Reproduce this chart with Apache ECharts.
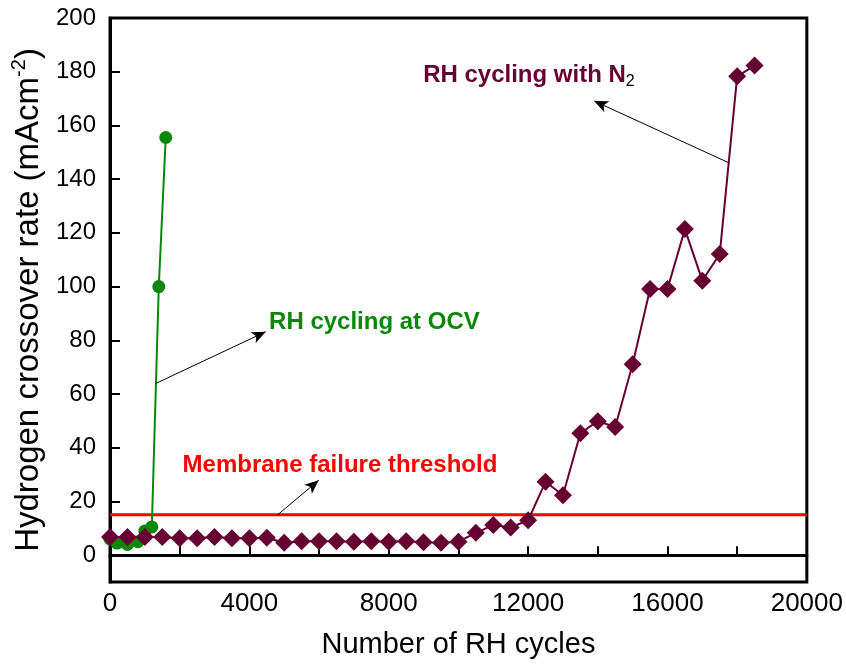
<!DOCTYPE html>
<html>
<head>
<meta charset="utf-8">
<script src="https://cdn.jsdelivr.net/npm/echarts@6/dist/echarts.min.js"></script>
<style>
  html, body { margin: 0; padding: 0; background: #fff; }
  #chart { width: 846px; height: 666px; }
</style>
</head>
<body>
<div id="chart"></div>
<script>
// RH cycling under N2: crossover rate every 500 cycles
const cyclesN2 = [0, 500, 1000, 1500, 2000, 2500, 3000, 3500, 4000, 4500,
  5000, 5500, 6000, 6500, 7000, 7500, 8000, 8500, 9000, 9500,
  10000, 10500, 11000, 11500, 12000, 12500, 13000, 13500, 14000, 14500,
  15000, 15500, 16000, 16500, 17000, 17500, 18000, 18500];
const rateN2 = [6.8, 6.8, 6.8, 6.8, 6.3, 6.3, 6.8, 6.3, 6.3, 6.5,
  4.6, 5.2, 5.2, 5.2, 5.0, 5.2, 5.0, 5.2, 4.8, 4.6,
  5.0, 8.3, 11.2, 10.3, 13.0, 27.3, 22.3, 45.4, 49.9, 47.7,
  71.1, 99.1, 99.1, 121.4, 102.2, 112.1, 178.3, 182.3];

// RH cycling at open circuit voltage
const cyclesOCV = [0, 200, 500, 800, 1000, 1200, 1400, 1600];
const rateOCV = [6.0, 4.5, 4.0, 5.0, 9.0, 10.5, 100, 155.5];

// Failure threshold (mA cm^-2)
const threshold = 15;

// Axis ticks and labels
const xTicks = [0, 2000, 4000, 6000, 8000, 10000, 12000, 14000, 16000, 18000, 20000];
const xLabels = [0, 4000, 8000, 12000, 16000, 20000];
const yTicks = [0, 20, 40, 60, 80, 100, 120, 140, 160, 180, 200];

const colN2 = '#660033';
const colOCV = '#0a870a';
const colRed = '#ff0000';
const FONT = 'Liberation Sans';

function pairs(xs, ys) { return xs.map((x, i) => [x, ys[i]]); }

function arrow(from, to) {
  return [{ coord: from }, { coord: to }];
}

const chart = echarts.init(document.getElementById('chart'));
chart.setOption({
  animation: false,
  backgroundColor: '#fff',
  textStyle: { fontFamily: FONT },
  grid: {
    left: 110, right: 35, top: 18, bottom: 84,
    show: true, borderColor: '#000', borderWidth: 3, backgroundColor: 'transparent'
  },
  xAxis: {
    type: 'value', min: 0, max: 20000,
    name: 'Number of RH cycles',
    nameLocation: 'middle', nameGap: 48,
    nameTextStyle: { fontSize: 29, color: '#000', fontFamily: FONT },
    axisLine: { show: true, lineStyle: { color: '#000', width: 3 } },
    axisTick: { show: true, inside: true, length: 9, customValues: xTicks, lineStyle: { color: '#000', width: 2 } },
    axisLabel: {
      customValues: xLabels, fontSize: 26, color: '#000', margin: 9, fontFamily: FONT,
      formatter: v => String(v)
    },
    splitLine: { show: false }
  },
  yAxis: {
    type: 'value', min: -10, max: 200,
    name: '{a|Hydrogen crossover rate (mAcm}{s|-2}{a|)}',
    nameLocation: 'middle', nameGap: 60,
    nameTextStyle: {
      color: '#000', fontFamily: FONT,
      rich: {
        a: { fontSize: 33, color: '#000', fontFamily: FONT, lineHeight: 38 },
        s: { fontSize: 20, color: '#000', fontFamily: FONT, verticalAlign: 'top', lineHeight: 38 }
      }
    },
    axisLine: { show: true, lineStyle: { color: '#000', width: 3 } },
    axisTick: { show: true, inside: true, length: 10, customValues: yTicks, lineStyle: { color: '#000', width: 2 } },
    axisLabel: { customValues: yTicks, fontSize: 24, color: '#000', margin: 14, fontFamily: FONT },
    splitLine: { show: false }
  },
  series: [
    {
      name: 'Membrane failure threshold',
      type: 'line',
      data: [[0, threshold], [20000, threshold]],
      symbol: 'none',
      lineStyle: { color: colRed, width: 3 },
      z: 1,
      silent: true,
      markLine: {
        silent: true,
        symbol: ['none', 'arrow'],
        symbolSize: [9, 14],
        label: { show: false },
        lineStyle: { color: '#000', width: 1, type: 'solid' },
        data: [arrow([4802, 14.9], [5991, 27.9])]
      },
      markPoint: {
        silent: true,
        symbol: 'circle', symbolSize: 0,
        label: {
          show: true, position: 'right', distance: 0,
          formatter: 'Membrane failure threshold',
          fontSize: 24, fontWeight: 'bold', color: colRed, fontFamily: FONT
        },
        data: [{ coord: [2083, 33.5] }]
      }
    },
    {
      name: 'RH cycling at OCV',
      type: 'line',
      data: pairs(cyclesOCV, rateOCV),
      symbol: 'circle', symbolSize: 13,
      itemStyle: { color: colOCV },
      lineStyle: { color: colOCV, width: 2 },
      z: 2,
      markLine: {
        silent: true,
        symbol: ['none', 'arrow'],
        symbolSize: [9, 14],
        label: { show: false },
        lineStyle: { color: '#000', width: 1, type: 'solid' },
        data: [arrow([1312, 63.9], [4471, 83.2])]
      },
      markPoint: {
        silent: true,
        symbol: 'circle', symbolSize: 0,
        label: {
          show: true, position: 'right', distance: 0,
          formatter: 'RH cycling at OCV',
          fontSize: 24, fontWeight: 'bold', color: colOCV, fontFamily: FONT
        },
        data: [{ coord: [4565, 86.8] }]
      }
    },
    {
      name: 'RH cycling with N2',
      type: 'line',
      data: pairs(cyclesN2, rateN2),
      symbol: 'diamond', symbolSize: 18,
      itemStyle: { color: colN2 },
      lineStyle: { color: colN2, width: 2 },
      z: 3,
      markLine: {
        silent: true,
        symbol: ['none', 'arrow'],
        symbolSize: [9, 14],
        label: { show: false },
        lineStyle: { color: '#000', width: 1, type: 'solid' },
        data: [arrow([17775, 146], [13894, 169.1])]
      },
      markPoint: {
        silent: true,
        symbol: 'circle', symbolSize: 0,
        label: {
          show: true, position: 'right', distance: 0,
          formatter: '{a|RH cycling with N}{b|2}',
          rich: {
            a: { fontSize: 24, fontWeight: 'bold', color: colN2, fontFamily: FONT, lineHeight: 30 },
            b: { fontSize: 16, color: '#000', fontFamily: FONT, verticalAlign: 'bottom', lineHeight: 30 }
          }
        },
        data: [{ coord: [8987, 178.8] }]
      }
    }
  ]
});
</script>
</body>
</html>
